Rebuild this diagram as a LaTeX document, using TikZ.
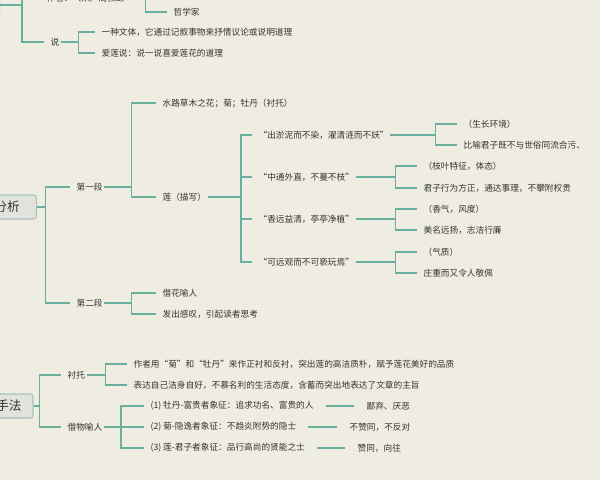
\documentclass[tikz,border=0pt]{standalone}
\usepackage{fontspec}
\setmainfont{Noto Sans CJK SC}
\usetikzlibrary{positioning}
\definecolor{bgpaper}{HTML}{EFECE1}
\definecolor{branch}{HTML}{6AAE9E}
\definecolor{rootfill}{HTML}{E2E2DE}
\definecolor{rootline}{HTML}{A9C3BE}
\definecolor{txt}{HTML}{333333}
\tikzset{
  leaf/.style={anchor=west, inner sep=1pt, text=txt, font=\fontsize{6.5}{8}\selectfont},
  rootbox/.style={draw=rootline, fill=rootfill, rounded corners=2pt, line width=0.8pt,
    minimum height=18pt, text=txt, font=\fontsize{9.5}{11}\selectfont},
  br/.style={draw=branch, line width=1pt}
}
\newcommand{\elbow}[3][14]{\draw[br] (#2.east) -| ([xshift=-#1]#3.west) -- ([xshift=-4]#3.west);}
\begin{document}
\begin{tikzpicture}[x=0.75pt,y=-0.75pt]
  \clip (0,0) rectangle (600,480);
  \fill[bgpaper] (0,0) rectangle (600,480);

  % top part
  \node[rootbox, minimum width=40pt] (top) at (-27,5) {};
  \node[leaf] (author) at (45,-2) {作者：（宋）周敦颐};
  \node[leaf] (zhe) at (172,12) {哲学家};
  \node[leaf] (shuo) at (49,42) {说};
  \node[leaf] (wenti) at (100,32) {一种文体，它通过记叙事物来抒情议论或说明道理};
  \node[leaf] (ailian) at (100,53) {爱莲说：说一说喜爱莲花的道理};
  \draw[br] (top.east) -| (22,-10);
  \draw[br] (22,5) |- ([xshift=-4]shuo.west);
  \draw[br] (author.east) -| (150,-10);
  \elbow[20]{author}{zhe}
  \elbow[16]{shuo}{wenti}
  \elbow[16]{shuo}{ailian}

  % 分析
  \node[rootbox, minimum width=44pt] (fenxi) at (7,207) {分析};
  \node[leaf] (duan1) at (75,187) {第一段};
  \node[leaf] (duan2) at (75,303) {第二段};
  \elbow[22]{fenxi}{duan1}
  \elbow[22]{fenxi}{duan2}

  \node[leaf] (shuilu) at (161,103) {水路草木之花；菊；牡丹（衬托）};
  \node[leaf] (lian) at (161,197) {莲（描写）};
  \elbow[22]{duan1}{shuilu}
  \elbow[22]{duan1}{lian}

  \node[leaf] (chu) at (257,135) {“出淤泥而不染，濯清涟而不妖”};
  \node[leaf] (zhong) at (257,177) {“中通外直，不蔓不枝”};
  \node[leaf] (xiang) at (257,219) {“香远益清，亭亭净植”};
  \node[leaf] (ke) at (257,262) {“可远观而不可亵玩焉”};
  \foreach \n in {chu,zhong,xiang,ke} {\elbow[12]{lian}{\n}}

  \node[leaf] (chu1) at (462,124) {（生长环境）};
  \node[leaf] (chu2) at (462,145) {比喻君子既不与世俗同流合污、};
  \node[leaf] (zhong1) at (422,166) {（枝叶特征，体态）};
  \node[leaf] (zhong2) at (422,188) {君子行为方正，通达事理，不攀附权贵};
  \node[leaf] (xiang1) at (422,209) {（香气，风度）};
  \node[leaf] (xiang2) at (422,230) {美名远扬，志洁行廉};
  \node[leaf] (ke1) at (422,252) {（气质）};
  \node[leaf] (ke2) at (422,273) {庄重而又令人敬佩};
  \foreach \p in {chu,zhong,xiang,ke} {
    \elbow[20]{\p}{\p1}
    \elbow[20]{\p}{\p2}
  }

  \node[leaf] (jiehua) at (161,293) {借花喻人};
  \node[leaf] (ganbei) at (161,314) {发出感叹，引起读者思考};
  \elbow[22]{duan2}{jiehua}
  \elbow[22]{duan2}{ganbei}

  % 手法
  \node[rootbox, minimum width=36pt] (shoufa) at (9,406) {手法};
  \node[leaf] (chentuo) at (66,375) {衬托};
  \node[leaf] (jiewu) at (66,427) {借物喻人};
  \elbow[20]{shoufa}{chentuo}
  \elbow[20]{shoufa}{jiewu}

  \node[leaf] (zuozhe) at (132,364) {作者用“菊”和“牡丹”来作正衬和反衬，突出莲的高洁质朴，赋予莲花美好的品质};
  \node[leaf] (biaoda) at (132,385) {表达自己洁身自好，不慕名利的生活态度，含蓄而突出地表达了文章的主旨};
  \elbow[20]{chentuo}{zuozhe}
  \elbow[20]{chentuo}{biaoda}

  \node[leaf] (mudan) at (149,406) {(1)\ 牡丹-富贵者象征：追求功名、富贵的人};
  \node[leaf] (ju) at (149,427) {(2)\ 菊-隐逸者象征：不趋炎附势的隐士};
  \node[leaf] (junzi) at (149,448) {(3)\ 莲-君子者象征：品行高尚的贤能之士};
  \foreach \n in {mudan,ju,junzi} {\elbow[21]{jiewu}{\n}}

  \node[leaf] (bishi) at (365,406) {鄙弃、厌恶};
  \node[leaf] (buzan) at (348,427) {不赞同，不反对};
  \node[leaf] (zantong) at (356,448) {赞同，向往};
  \draw[br] ([xshift=8]mudan.east) -- ([xshift=-8]bishi.west);
  \draw[br] ([xshift=8]ju.east) -- ([xshift=-8]buzan.west);
  \draw[br] ([xshift=8]junzi.east) -- ([xshift=-8]zantong.west);
\end{tikzpicture}
\end{document}
